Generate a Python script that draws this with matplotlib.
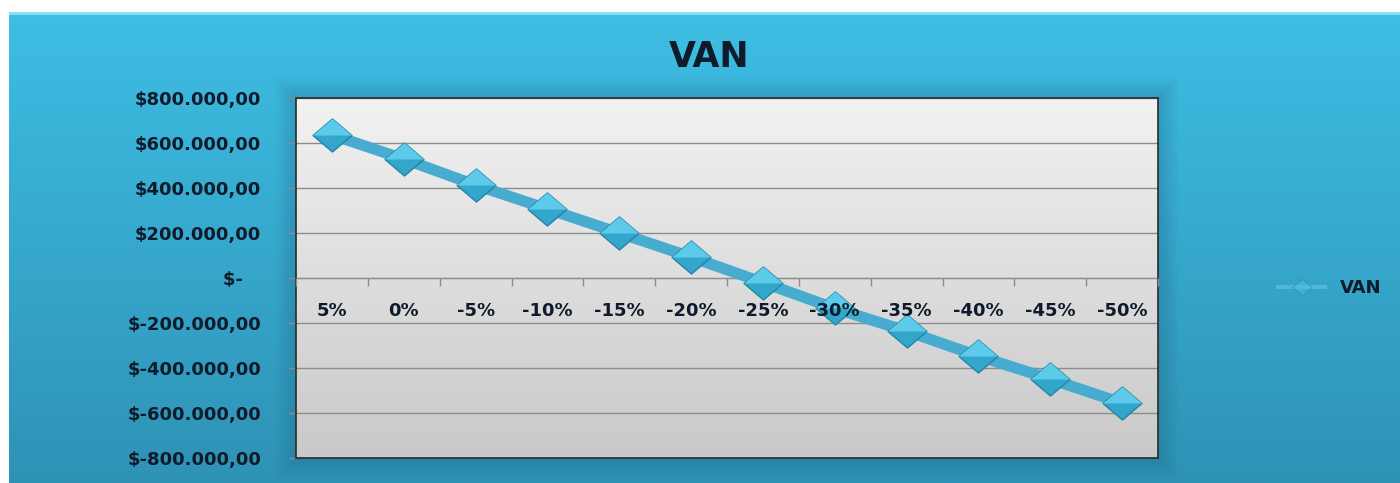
import numpy as np
import matplotlib
matplotlib.use("Agg")
import matplotlib.pyplot as plt
from matplotlib.path import Path
from matplotlib.lines import Line2D
from matplotlib.patches import Rectangle

# data
categories = ['5%', '0%', '-5%', '-10%', '-15%', '-20%', '-25%',
              '-30%', '-35%', '-40%', '-45%', '-50%']
van = [636000, 529000, 413000, 307000, 200000, 93000, -20000,
       -135000, -236000, -347000, -449000, -556000]
y_ticks = [800000, 600000, 400000, 200000, 0, -200000, -400000, -600000, -800000]


def money(v):
    if v == 0:
        return '$-   '
    s = '{:,.2f}'.format(v).replace(',', 'X').replace('.', ',').replace('X', '.')
    return '$' + s


W, H = 1400, 483
fig = plt.figure(figsize=(W / 100, H / 100), dpi=100)
fig.patch.set_facecolor('white')

# blue panel with vertical gradient
bg = fig.add_axes([9 / W, 0, 1 - 9 / W, 1 - 12 / H], zorder=-5)
top = np.array([0x3e, 0xbe, 0xe4]) / 255
bot = np.array([0x2e, 0x92, 0xb5]) / 255
t = np.linspace(0, 1, 256)[:, None]
grad = top * (1 - t) + bot * t
bg.imshow(grad[:, None, :], aspect='auto', extent=[0, 1, 0, 1])
bg.set_xlim(0, 1)
bg.set_ylim(0, 1)
bg.axis('off')
bg.axhline(0.997, color='#8fe0f5', lw=2)

# soft shadow around the plot area
l, r, b, tp = 296 / W, 1158 / W, 1 - 458 / H, 1 - 98 / H
for i in range(8):
    d = (i + 1) * 2.5
    fig.patches.append(Rectangle((l - d / W, b - d / H), (r - l) + 2 * d / W,
                                 (tp - b) + 2 * d / H, transform=fig.transFigure,
                                 facecolor='#1c5f7a', edgecolor='none',
                                 alpha=0.035, zorder=-4))

ax = fig.add_axes([l, b, r - l, tp - b])
x = np.arange(len(categories))

# light grey gradient inside the plot area
g1 = np.array([0xf2, 0xf2, 0xf2]) / 255
g2 = np.array([0xc9, 0xc9, 0xc9]) / 255
pg = g1 * (1 - t) + g2 * t
ax.imshow(pg[:, None, :], aspect='auto', extent=[0, 1, 0, 1],
          transform=ax.transAxes, zorder=0)

for v in y_ticks:
    ax.axhline(v, color='#8c8c8c', lw=1, zorder=1)

ax.plot(x, van, color='#47acd0', lw=8, solid_capstyle='butt', zorder=3)

diamond = Path([(-1, 0), (0, 0.85), (1, 0), (0, -0.85), (-1, 0)],
               [Path.MOVETO, Path.LINETO, Path.LINETO, Path.LINETO, Path.CLOSEPOLY])
upper = Path([(-1, 0), (0, 0.85), (1, 0), (-1, 0)],
             [Path.MOVETO, Path.LINETO, Path.LINETO, Path.CLOSEPOLY])
ax.plot(x, van, ls='none', marker=diamond, markersize=28, markerfacecolor='#33a6cc',
        markeredgecolor='#2585a6', markeredgewidth=1, zorder=4)
ax.plot(x, van, ls='none', marker=upper, markersize=28, markerfacecolor='#5ccbea',
        markeredgecolor='none', zorder=5)

ax.set_xlim(-0.5, len(categories) - 0.5)
ax.set_ylim(-800000, 800000)

ax.set_yticks(y_ticks)
ax.set_yticklabels([money(v) for v in y_ticks])
ax.tick_params(axis='y', length=5, width=1, color='#8c8c8c', pad=20,
               labelsize=13, labelcolor='#0f1a2a')
for lab in ax.get_yticklabels():
    lab.set_fontweight('bold')

ax.spines['bottom'].set_position(('data', 0))
ax.spines['bottom'].set_color('#8c8c8c')
ax.set_xticks(x)
ax.set_xticklabels(categories, fontweight='bold')
ax.set_xticks(np.arange(len(categories) + 1) - 0.5, minor=True)
ax.tick_params(axis='x', which='major', length=0, pad=17, labelsize=13,
               labelcolor='#0f1a2a')
ax.tick_params(axis='x', which='minor', length=6, width=1, color='#8c8c8c',
               direction='out')
ax.xaxis.set_zorder(8)
for s in ['top', 'left', 'right']:
    ax.spines[s].set_visible(False)
ax.add_patch(Rectangle((0, 0), 1, 1, transform=ax.transAxes, fill=False,
                       edgecolor='#2a2a2a', lw=1.2, zorder=6, clip_on=False))

fig.text(709 / W, 1 - 57 / H, 'VAN', ha='center', va='center', fontsize=25,
         fontweight='bold', color='#0f1a2a')

handle = Line2D([], [], color='#6ccbe6', alpha=0.5, lw=3, marker=diamond,
                markersize=14, markerfacecolor='#4cbfe3', markeredgecolor='#2a8db0')
fig.legend([handle], ['VAN'], loc='center left',
           bbox_to_anchor=(1262 / W, 1 - 288 / H), frameon=False,
           prop={'weight': 'bold', 'size': 13}, handlelength=2.6,
           handletextpad=0.8, labelcolor='#0f1a2a')

fig.savefig('out.png', dpi=100)
